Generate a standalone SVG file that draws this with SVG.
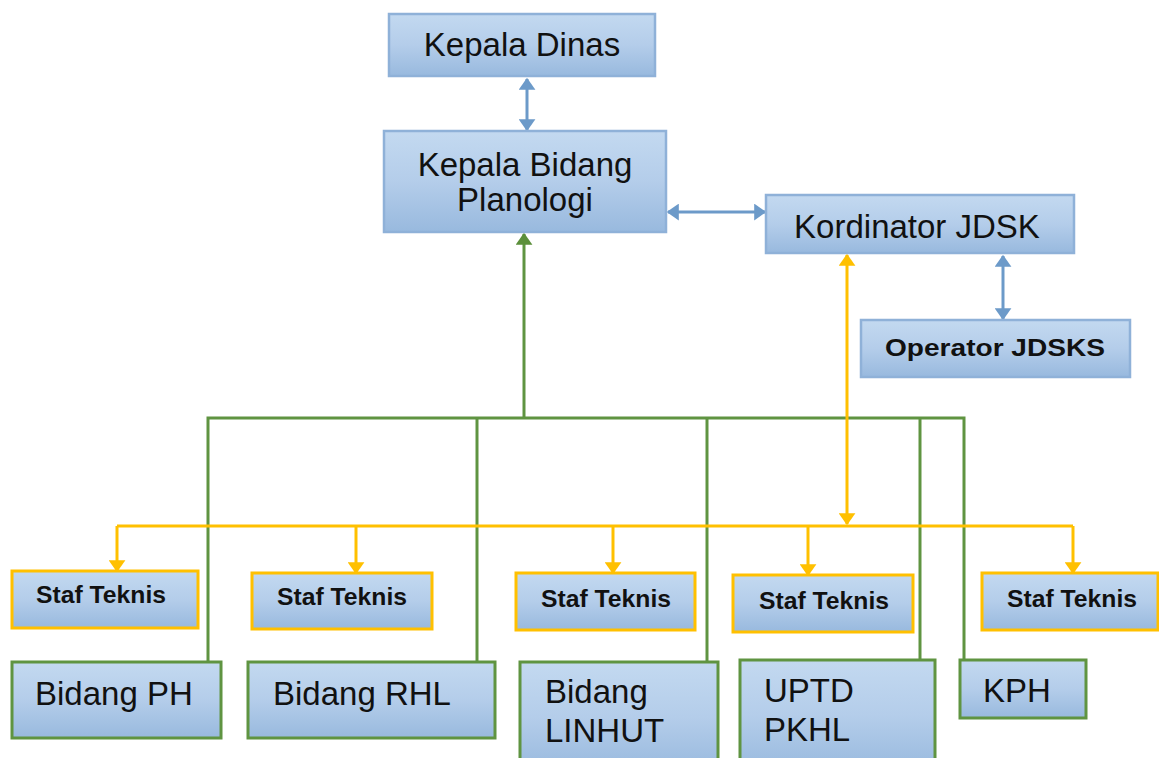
<svg xmlns="http://www.w3.org/2000/svg" width="1159" height="758" viewBox="0 0 1159 758">
<defs>
<linearGradient id="g" x1="0" y1="0" x2="0" y2="1">
<stop offset="0" stop-color="#c3d9f0"/>
<stop offset="0.5" stop-color="#b4cdea"/>
<stop offset="1" stop-color="#98b9de"/>
</linearGradient>
<marker id="ab" viewBox="0 0 10 14" refX="9" refY="7" markerWidth="12" markerHeight="17" markerUnits="userSpaceOnUse" orient="auto-start-reverse">
<path d="M0,0 L10,7 L0,14 z" fill="#6c9ac9"/>
</marker>
<marker id="ay" viewBox="0 0 10 14" refX="9" refY="7" markerWidth="12" markerHeight="17" markerUnits="userSpaceOnUse" orient="auto-start-reverse">
<path d="M0,0 L10,7 L0,14 z" fill="#ffc000"/>
</marker>
<marker id="ag" viewBox="0 0 10 14" refX="9" refY="7" markerWidth="12" markerHeight="17" markerUnits="userSpaceOnUse" orient="auto-start-reverse">
<path d="M0,0 L10,7 L0,14 z" fill="#5b8f3a"/>
</marker>
</defs>
<style>
.bb{fill:url(#g);stroke:#8fb1d8;stroke-width:2.5}
.yb{fill:url(#g);stroke:#ffc000;stroke-width:3}
.gb{fill:url(#g);stroke:#5f9441;stroke-width:3}
.t{font-family:"Liberation Sans",Arial,sans-serif;font-size:33px;fill:#111}
.tb{font-family:"Liberation Sans",Arial,sans-serif;font-size:24px;font-weight:bold;fill:#111}
.cb{stroke:#6c9ac9;stroke-width:3;fill:none}
.cy{stroke:#ffc000;stroke-width:3;fill:none}
.cg{stroke:#5f9441;stroke-width:3;fill:none}
</style>
<rect width="1159" height="758" fill="#fff"/>
<g id="connectors">
<line class="cb" x1="527" y1="79" x2="527" y2="130" marker-start="url(#ab)" marker-end="url(#ab)"/>
<line class="cb" x1="668" y1="212" x2="765" y2="212" marker-start="url(#ab)" marker-end="url(#ab)"/>
<line class="cb" x1="1003" y1="256" x2="1003" y2="319" marker-start="url(#ab)" marker-end="url(#ab)"/>
<polyline class="cg" points="208,662 208,418 964,418 964,660"/>
<line class="cg" x1="524" y1="418" x2="524" y2="234" marker-end="url(#ag)"/>
<line class="cg" x1="477" y1="418" x2="477" y2="662"/>
<line class="cg" x1="707" y1="418" x2="707" y2="662"/>
<line class="cg" x1="920" y1="418" x2="920" y2="660"/>
<line class="cy" x1="847" y1="255" x2="847" y2="524" marker-start="url(#ay)" marker-end="url(#ay)"/>
<polyline class="cy" points="117,526 1073,526"/>
<line class="cy" x1="117" y1="526" x2="117" y2="571" marker-end="url(#ay)"/>
<line class="cy" x1="1073" y1="526" x2="1073" y2="573" marker-end="url(#ay)"/>
<line class="cy" x1="356" y1="526" x2="356" y2="573" marker-end="url(#ay)"/>
<line class="cy" x1="613" y1="526" x2="613" y2="573" marker-end="url(#ay)"/>
<line class="cy" x1="808" y1="526" x2="808" y2="575" marker-end="url(#ay)"/>
</g>
<g id="kepala-dinas"><rect class="bb" x="389" y="14" width="266" height="62"/><text class="t" x="522" y="56" text-anchor="middle">Kepala Dinas</text></g>
<g id="kepala-bidang"><rect class="bb" x="384" y="131" width="282" height="101"/><text class="t" x="525" y="176" text-anchor="middle">Kepala Bidang</text><text class="t" x="525" y="211" text-anchor="middle">Planologi</text></g>
<g id="kordinator"><rect class="bb" x="766" y="195" width="308" height="58"/><text class="t" x="917" y="238" text-anchor="middle">Kordinator JDSK</text></g>
<g id="operator"><rect class="bb" x="861" y="320" width="269" height="57"/><text class="tb" x="995" y="356" text-anchor="middle" font-size="25" textLength="220" lengthAdjust="spacingAndGlyphs">Operator JDSKS</text></g>
<g id="staf1"><rect class="yb" x="12" y="571" width="186" height="57"/><text class="tb" x="101" y="603" text-anchor="middle" textLength="130" lengthAdjust="spacingAndGlyphs">Staf Teknis</text></g>
<g id="staf2"><rect class="yb" x="252" y="573" width="180" height="56"/><text class="tb" x="342" y="605" text-anchor="middle" textLength="130" lengthAdjust="spacingAndGlyphs">Staf Teknis</text></g>
<g id="staf3"><rect class="yb" x="516" y="573" width="179" height="57"/><text class="tb" x="606" y="607" text-anchor="middle" textLength="130" lengthAdjust="spacingAndGlyphs">Staf Teknis</text></g>
<g id="staf4"><rect class="yb" x="733" y="575" width="180" height="57"/><text class="tb" x="824" y="609" text-anchor="middle" textLength="130" lengthAdjust="spacingAndGlyphs">Staf Teknis</text></g>
<g id="staf5"><rect class="yb" x="982" y="573" width="176" height="57"/><text class="tb" x="1072" y="607" text-anchor="middle" textLength="130" lengthAdjust="spacingAndGlyphs">Staf Teknis</text></g>
<g id="bidang-ph"><rect class="gb" x="12" y="662" width="209" height="76"/><text class="t" x="35" y="705">Bidang PH</text></g>
<g id="bidang-rhl"><rect class="gb" x="248" y="662" width="247" height="76"/><text class="t" x="273" y="705">Bidang RHL</text></g>
<g id="bidang-linhut"><rect class="gb" x="520" y="662" width="198" height="110"/><text class="t" x="545" y="703">Bidang</text><text class="t" x="545" y="742">LINHUT</text></g>
<g id="uptd-pkhl"><rect class="gb" x="740" y="660" width="195" height="112"/><text class="t" x="764" y="702">UPTD</text><text class="t" x="764" y="741">PKHL</text></g>
<g id="kph"><rect class="gb" x="960" y="660" width="126" height="58"/><text class="t" x="983" y="702">KPH</text></g>
</svg>
